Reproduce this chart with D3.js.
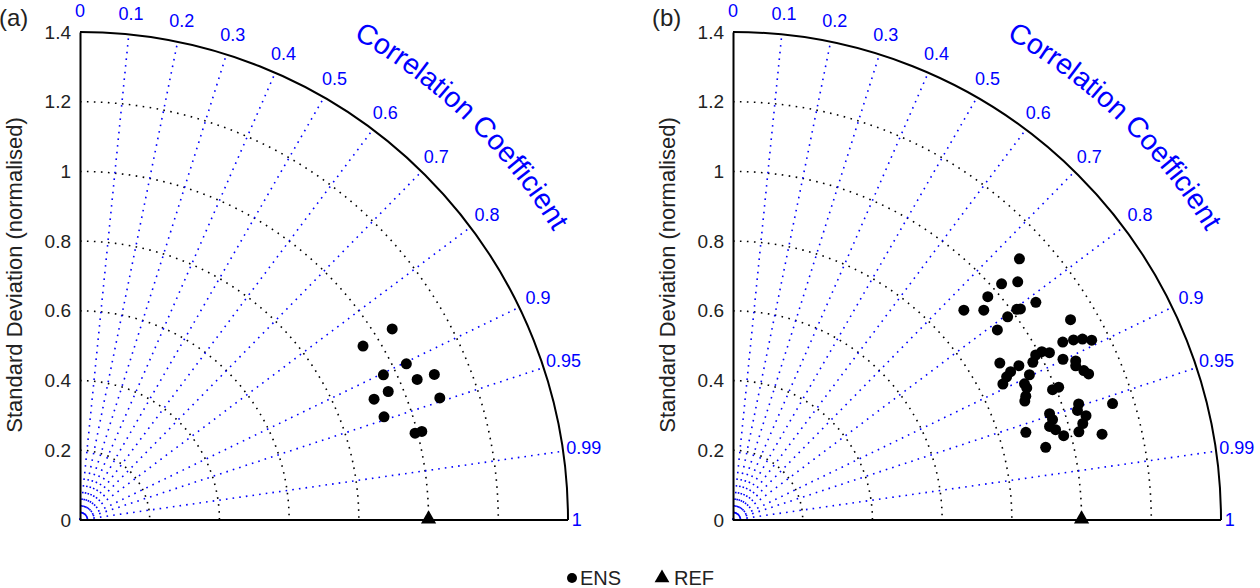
<!DOCTYPE html>
<html>
<head>
<meta charset="utf-8">
<script src="https://cdn.jsdelivr.net/npm/d3@7"></script>
<style>
  body { margin: 0; background: #fff; }
  text { font-family: "Liberation Sans", Arial, Helvetica, sans-serif; }
</style>
</head>
<body>
<div id="chart"></div>
<script>
// standard deviation (normalised) ticks and dotted arcs
var stdTicks = [0, 0.2, 0.4, 0.6, 0.8, 1, 1.2, 1.4];
var stdArcs = [0.2, 0.4, 0.6, 0.8, 1, 1.2];
var stdMax = 1.4;

// correlation rays and labels
var corrLines = [0.1, 0.2, 0.3, 0.4, 0.5, 0.6, 0.7, 0.8, 0.9, 0.95, 0.99];
var corrLabels = [0, 0.1, 0.2, 0.3, 0.4, 0.5, 0.6, 0.7, 0.8, 0.9, 0.95, 0.99, 1];

// reference point
var refStd = 1.0;
var refCorr = 1.0;

// panel (a) ensemble members
var ensAStd  = [1.050, 0.953, 1.038, 0.965, 1.048, 1.099, 0.958, 0.912, 1.090, 0.921, 0.993, 1.013];
var ensACorr = [0.853, 0.852, 0.902, 0.902, 0.923, 0.925, 0.923, 0.925, 0.947, 0.947, 0.968, 0.968];

// panel (b) ensemble members
var ensBStd  = [1.112, 1.065, 1.026, 0.972, 1.070, 0.895, 0.938, 1.014, 1.023, 0.980,
                0.934, 1.126, 1.075, 1.105, 1.129, 1.151, 0.888, 0.932, 0.903, 0.886,
                0.867, 0.947, 0.972, 0.989, 1.009, 1.027, 1.053, 1.084, 1.078, 1.094,
                1.103, 0.923, 0.924, 0.912, 0.904, 0.990, 1.009, 1.046, 1.037, 1.056,
                1.041, 1.024, 1.139, 1.087, 0.958, 0.961, 0.947, 0.961, 0.979, 0.877,
                0.921];
var ensBCorr = [0.739, 0.767, 0.751, 0.752, 0.812, 0.740, 0.767, 0.803, 0.806, 0.804,
                0.812, 0.860, 0.880, 0.884, 0.888, 0.894, 0.862, 0.880, 0.882, 0.886,
                0.893, 0.898, 0.885, 0.878, 0.878, 0.884, 0.899, 0.907, 0.912, 0.920,
                0.925, 0.906, 0.912, 0.921, 0.926, 0.926, 0.926, 0.948, 0.953, 0.959,
                0.964, 0.969, 0.956, 0.974, 0.948, 0.954, 0.959, 0.963, 0.969, 0.958,
                0.974];

var panels = [
  { name: "(a)", left: 80,  std: ensAStd, corr: ensACorr },
  { name: "(b)", left: 733, std: ensBStd, corr: ensBCorr }
];

var width = 1260, height = 588, baseY = 520, radiusPx = 488;
var blue = "#0000ff";

var svg = d3.select("#chart").append("svg")
  .attr("width", width)
  .attr("height", height);

var r = d3.scaleLinear().domain([0, stdMax]).range([0, radiusPx]);
var yScale = d3.scaleLinear().domain([0, stdMax]).range([0, -radiusPx]);

function px(s, c) { return r(s * c); }
function py(s, c) { return -r(s * Math.sqrt(Math.max(0, 1 - c * c))); }

function quarterArc(s) {
  var p = d3.path();
  p.moveTo(0, -r(s));
  p.arc(0, 0, r(s), -Math.PI / 2, 0);
  return p.toString();
}

panels.forEach(function(panel, pi) {
  var g = svg.append("g")
    .attr("transform", "translate(" + panel.left + "," + baseY + ")");

  // dotted std arcs
  g.selectAll("path.stdarc")
    .data(stdArcs)
    .enter().append("path")
      .attr("class", "stdarc")
      .attr("d", quarterArc)
      .attr("fill", "none")
      .attr("stroke", "#000")
      .attr("stroke-width", 1.6)
      .attr("stroke-dasharray", "1.6,5.4");

  // dotted correlation rays
  g.selectAll("line.ray")
    .data(corrLines)
    .enter().append("line")
      .attr("class", "ray")
      .attr("x1", 0).attr("y1", 0)
      .attr("x2", function(c) { return px(stdMax, c); })
      .attr("y2", function(c) { return py(stdMax, c); })
      .attr("stroke", blue)
      .attr("stroke-width", 1.6)
      .attr("stroke-dasharray", "1.6,5.1");

  // outer arc
  g.append("path")
    .attr("d", quarterArc(stdMax))
    .attr("fill", "none")
    .attr("stroke", "#000")
    .attr("stroke-width", 2);

  // x axis line
  g.append("line")
    .attr("x1", 0).attr("y1", 0)
    .attr("x2", r(stdMax)).attr("y2", 0)
    .attr("stroke", "#000")
    .attr("stroke-width", 2);

  // y axis
  var yAxis = g.append("g")
    .call(d3.axisLeft(yScale)
      .tickValues(stdTicks)
      .tickSize(0)
      .tickPadding(9)
      .tickFormat(function(d) { return String(+d.toFixed(1)); }));
  yAxis.select(".domain").attr("stroke", "#000").attr("stroke-width", 2);
  yAxis.selectAll("text")
    .attr("font-size", 19)
    .attr("fill", "#222")
    .attr("font-family", "Liberation Sans, Arial, Helvetica, sans-serif");

  // correlation labels
  g.selectAll("text.corr")
    .data(corrLabels)
    .enter().append("text")
      .attr("class", "corr")
      .attr("x", function(c) { return px(c === 1 ? 1.425 : 1.46, c); })
      .attr("y", function(c) { return py(c === 1 ? 1.425 : 1.46, c); })
      .attr("text-anchor", "middle")
      .attr("dominant-baseline", "central")
      .attr("font-size", 18)
      .attr("fill", blue)
      .text(function(c) { return String(c); });

  // curved title
  var pathId = "ccarc" + pi;
  g.append("path")
    .attr("id", pathId)
    .attr("d", quarterArc(1.59))
    .attr("fill", "none");
  g.append("text")
    .attr("font-size", 28.5)
    .attr("fill", blue)
    .append("textPath")
      .attr("href", "#" + pathId)
      .attr("startOffset", "49%")
      .attr("text-anchor", "middle")
      .text("Correlation Coefficient");

  // y axis title
  g.append("text")
    .attr("transform", "translate(" + (-58) + "," + (-245) + ") rotate(-90)")
    .attr("text-anchor", "middle")
    .attr("font-size", 22)
    .attr("fill", "#222")
    .text("Standard Deviation (normalised)");

  // panel label
  svg.append("text")
    .attr("x", panel.left - 81)
    .attr("y", 26)
    .attr("font-size", 24)
    .attr("fill", "#222")
    .text(panel.name);

  // ensemble points
  g.selectAll("circle.ens")
    .data(d3.range(panel.std.length))
    .enter().append("circle")
      .attr("class", "ens")
      .attr("cx", function(i) { return px(panel.std[i], panel.corr[i]); })
      .attr("cy", function(i) { return py(panel.std[i], panel.corr[i]); })
      .attr("r", 5.5)
      .attr("fill", "#000");

  // reference point
  g.append("path")
    .attr("d", d3.symbol(d3.symbolTriangle, 100)())
    .attr("transform", "translate(" + px(refStd, refCorr) + "," + (py(refStd, refCorr) - 1) + ")")
    .attr("fill", "#000");
});

// legend
var legend = svg.append("g").attr("transform", "translate(0,578)");
legend.append("circle").attr("cx", 572).attr("cy", 0).attr("r", 5).attr("fill", "#000");
legend.append("text").attr("x", 580).attr("y", 7).attr("font-size", 20).attr("fill", "#222").text("ENS");
legend.append("path")
  .attr("d", d3.symbol(d3.symbolTriangle, 95)())
  .attr("transform", "translate(662,0)")
  .attr("fill", "#000");
legend.append("text").attr("x", 674).attr("y", 7).attr("font-size", 20).attr("fill", "#222").text("REF");
</script>
</body>
</html>
